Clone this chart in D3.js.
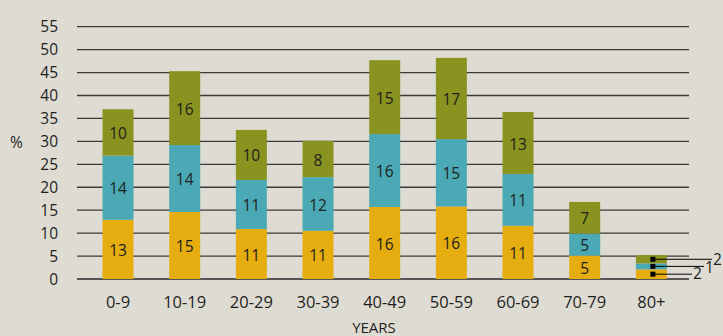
<!DOCTYPE html>
<html>
<head>
<meta charset="utf-8">
<script src="https://cdn.jsdelivr.net/npm/d3@7"></script>
<style>
  body { margin: 0; background: #dedcd2; }
  text { font-family: "Open Sans", sans-serif; fill: #1e1e1e; }
</style>
</head>
<body>
<script>
// age groups and the three stacked series (bottom to top)
var ages = ["0-9", "10-19", "20-29", "30-39", "40-49", "50-59", "60-69", "70-79", "80+"];
var seriesA = [12.9, 14.6, 10.9, 10.5, 15.7, 15.8, 11.6, 5.1, 2.1];   // orange
var seriesB = [14.0, 14.6, 10.7, 11.7, 15.9, 14.7, 11.3, 4.8, 1.3];   // teal
var seriesC = [10.1, 16.1, 10.9, 7.9, 16.1, 17.7, 13.5, 6.9, 1.8];    // olive
// printed labels
var labelsA = [13, 15, 11, 11, 16, 16, 11, 5, 2];
var labelsB = [14, 14, 11, 12, 16, 15, 11, 5, 1];
var labelsC = [10, 16, 10, 8, 15, 17, 13, 7, 2];
var yTicks = [0, 5, 10, 15, 20, 25, 30, 35, 40, 45, 50, 55];

var keys = ["a", "b", "c"];
var colors = {a: "#e5ad10", b: "#4aa9b4", c: "#8a931f"};
var labels = {a: labelsA, b: labelsB, c: labelsC};

var width = 723, height = 336;

var svg = d3.select("body").append("svg")
    .attr("width", width)
    .attr("height", height);

var rows = ages.map(function(g, i) {
  return {age: g, i: i, a: seriesA[i], b: seriesB[i], c: seriesC[i]};
});

var x = d3.scaleBand()
    .domain(ages)
    .range([84.7, 684.7])
    .paddingInner(0.535)
    .paddingOuter(0.2675);

var y = d3.scaleLinear()
    .domain([0, 55])
    .range([279, 26.7]);

// gridlines
svg.append("g")
  .selectAll("line")
  .data(yTicks)
  .enter()
  .append("line")
    .attr("x1", 77)
    .attr("x2", 689)
    .attr("y1", d => y(d))
    .attr("y2", d => y(d))
    .attr("stroke", d => d === 0 ? "#555" : "#3a3a3a")
    .attr("stroke-width", d => d === 0 ? 2 : 1.3);

// y tick labels
svg.append("g")
  .selectAll("text")
  .data(yTicks)
  .enter()
  .append("text")
    .attr("x", 58)
    .attr("y", d => y(d))
    .attr("dy", "0.36em")
    .attr("text-anchor", "end")
    .attr("font-size", 15.5)
    .text(d => d);

svg.append("text")
    .attr("x", 16.5)
    .attr("y", 142)
    .attr("dy", "0.36em")
    .attr("text-anchor", "middle")
    .attr("font-size", 15.5)
    .text("%");

// stacked bars
var stack = d3.stack().keys(keys)(rows);

var layers = svg.selectAll(".layer")
  .data(stack)
  .enter()
  .append("g")
    .attr("class", "layer")
    .attr("fill", d => colors[d.key]);

layers.selectAll("rect")
  .data(d => d)
  .enter()
  .append("rect")
    .attr("x", d => x(d.data.age))
    .attr("width", x.bandwidth())
    .attr("y", d => y(d[1]))
    .attr("height", d => y(d[0]) - y(d[1]));

// labels inside segments (not for the last, small bar)
stack.forEach(function(layer) {
  svg.append("g")
    .selectAll("text")
    .data(layer.filter(d => d.data.age !== "80+"))
    .enter()
    .append("text")
      .attr("x", d => x(d.data.age) + x.bandwidth() / 2)
      .attr("y", d => (y(d[0]) + y(d[1])) / 2 + 1)
      .attr("dy", "0.36em")
      .attr("text-anchor", "middle")
      .attr("font-size", 15.5)
      .text(d => labels[layer.key][d.data.i]);
});

// leader labels for 80+
var last = ages.length - 1;
var leaderEnd = {a: 692, b: 704, c: 712};
var leaderOff = {a: 5, b: 7, c: 6};
stack.forEach(function(layer) {
  var d = layer[last];
  var cx = x(d.data.age) + x.bandwidth() / 2 + 1.5;
  var cy = (y(d[0]) + y(d[1])) / 2;
  svg.append("rect")
    .attr("x", cx - 2.5)
    .attr("y", cy - 2.5)
    .attr("width", 5)
    .attr("height", 5)
    .attr("fill", "#000");
  svg.append("line")
    .attr("x1", cx)
    .attr("x2", leaderEnd[layer.key])
    .attr("y1", cy)
    .attr("y2", cy)
    .attr("stroke", "#000")
    .attr("stroke-width", 1);
  svg.append("text")
    .attr("x", leaderEnd[layer.key] + 1)
    .attr("y", cy + leaderOff[layer.key])
    .attr("font-size", 15.5)
    .text(labels[layer.key][last]);
});

// x axis labels
svg.append("g")
  .selectAll("text")
  .data(ages)
  .enter()
  .append("text")
    .attr("x", d => x(d) + x.bandwidth() / 2)
    .attr("y", 308)
    .attr("text-anchor", "middle")
    .attr("font-size", 16.5)
    .text(d => d);

svg.append("text")
    .attr("x", 374)
    .attr("y", 333)
    .attr("text-anchor", "middle")
    .attr("font-size", 15)
    .text("YEARS");
</script>
</body>
</html>
